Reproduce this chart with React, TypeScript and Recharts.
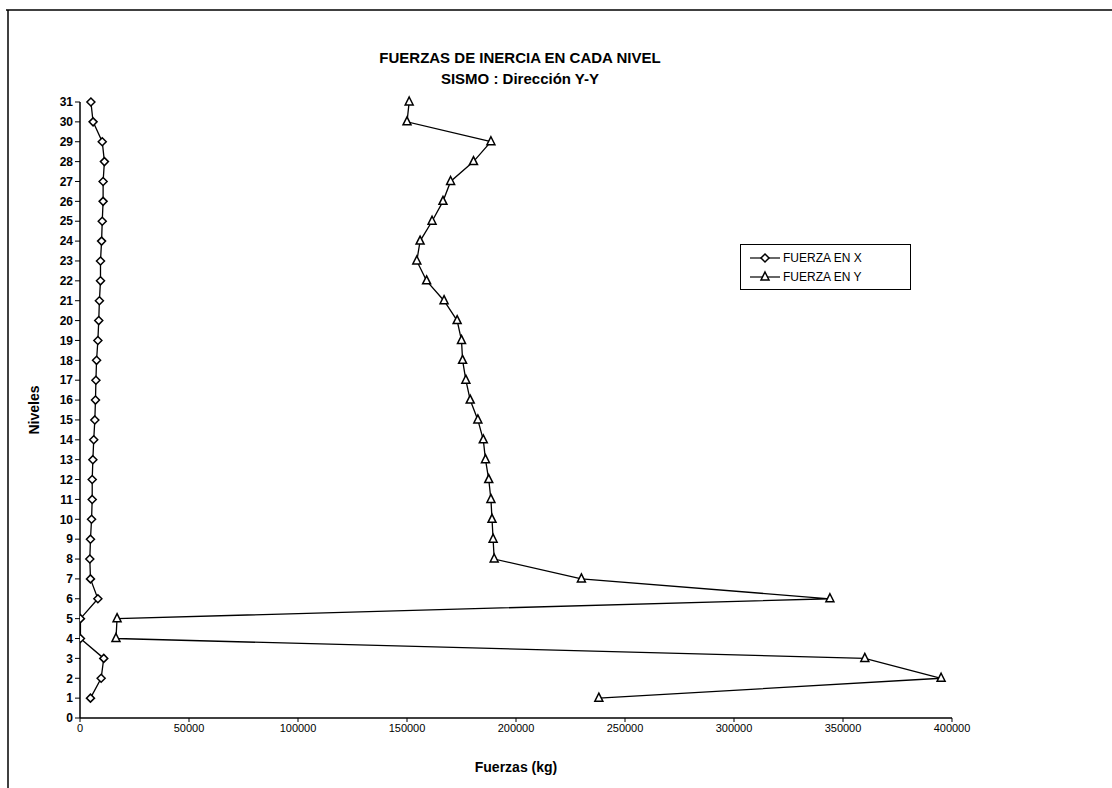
import React from "react";
import { ScatterChart, Scatter, XAxis, YAxis, Label, Legend } from "recharts";

// niveles (pisos) y fuerzas de inercia, en kg
const niveles = [1, 2, 3, 4, 5, 6, 7, 8, 9, 10, 11, 12, 13, 14, 15, 16, 17, 18, 19, 20, 21, 22, 23, 24, 25, 26, 27, 28, 29, 30, 31];
const fuerzaX = [4800, 9700, 10900, 200, 200, 8200, 4800, 4500, 4800, 5300, 5600, 5600, 5900, 6300, 6800, 7100, 7300, 7600, 8200, 8600, 8900, 9400, 9400, 9900, 10200, 10600, 10600, 11200, 10200, 6000, 5000];
const fuerzaY = [238000, 395000, 360000, 16500, 17000, 344000, 230000, 190000, 189500, 189000, 188500, 187500, 186000, 185000, 182500, 179000, 177000, 175500, 175000, 173000, 167000, 159000, 154500, 156000, 161500, 166500, 170000, 180500, 188500, 150000, 151000];

const yTicks = [0, 1, 2, 3, 4, 5, 6, 7, 8, 9, 10, 11, 12, 13, 14, 15, 16, 17, 18, 19, 20, 21, 22, 23, 24, 25, 26, 27, 28, 29, 30, 31];
const xTicks = [0, 50000, 100000, 150000, 200000, 250000, 300000, 350000, 400000];

const FONT = "'Liberation Sans', Arial, sans-serif";

const dataX = niveles.map((n, i) => ({ fuerza: fuerzaX[i], nivel: n }));
const dataY = niveles.map((n, i) => ({ fuerza: fuerzaY[i], nivel: n }));

const Diamond = (props: any) => {
  const { cx, cy } = props;
  if (cx == null || cy == null) return null;
  const r = 4;
  return (
    <path
      d={`M${cx},${cy - r}L${cx + r},${cy}L${cx},${cy + r}L${cx - r},${cy}Z`}
      fill="#fff"
      stroke="#000"
      strokeWidth={1.5}
    />
  );
};

const Triangle = (props: any) => {
  const { cx, cy } = props;
  if (cx == null || cy == null) return null;
  const r = 4;
  return (
    <path
      d={`M${cx},${cy - r - 1}L${cx + r},${cy + r - 1}L${cx - r},${cy + r - 1}Z`}
      fill="#fff"
      stroke="#000"
      strokeWidth={1.5}
    />
  );
};

const series = [
  { name: "FUERZA EN X", shape: Diamond },
  { name: "FUERZA EN Y", shape: Triangle },
];

const LegendBox = () => (
  <div
    style={{
      border: "1px solid #000",
      background: "#fff",
      padding: "3px 0",
      fontFamily: FONT,
      fontSize: 12,
      width: 169,
      color: "#000",
    }}
  >
    {series.map((s) => {
      const Shape = s.shape;
      return (
        <div key={s.name} style={{ display: "flex", alignItems: "center", height: 19, paddingLeft: 9 }}>
          <svg width={30} height={14}>
            <line x1={0} y1={7} x2={30} y2={7} stroke="#000" strokeWidth={1.2} />
            <Shape cx={15} cy={7} />
          </svg>
          <span style={{ marginLeft: 3 }}>{s.name}</span>
        </div>
      );
    })}
  </div>
);

export default function App() {
  return (
    <div style={{ position: "absolute", left: 0, top: 0, width: 1112, height: 788, background: "#fff" }}>
      <ScatterChart
        width={1112}
        height={788}
        margin={{ top: 102, right: 160, left: 48, bottom: 40 }}
      >
        <XAxis
          type="number"
          dataKey="fuerza"
          domain={[0, 400000]}
          ticks={xTicks}
          interval={0}
          allowDataOverflow
          axisLine={{ stroke: "#000", strokeWidth: 1.5 }}
          tickLine={{ stroke: "#000" }}
          tickSize={4}
          height={30}
          tick={{ fontSize: 11, fill: "#000", stroke: "none", fontFamily: FONT }}
        >
          <Label
            value="Fuerzas (kg)"
            position="insideBottom"
            offset={-24}
            style={{ fontSize: 14, fontWeight: "bold", fill: "#000", fontFamily: FONT }}
          />
        </XAxis>
        <YAxis
          type="number"
          dataKey="nivel"
          domain={[0, 31]}
          ticks={yTicks}
          interval={0}
          width={32}
          axisLine={{ stroke: "#000", strokeWidth: 1.5 }}
          tickLine={{ stroke: "#000" }}
          tickSize={5}
          tick={{ fontSize: 12, fontWeight: "bold", fill: "#000", stroke: "none", fontFamily: FONT }}
        >
          <Label
            value="Niveles"
            angle={-90}
            position="insideLeft"
            offset={-14}
            style={{ fontSize: 14, fontWeight: "bold", fill: "#000", fontFamily: FONT, textAnchor: "middle" }}
          />
        </YAxis>
        <Legend
          layout="horizontal"
          align="center"
          verticalAlign="middle"
          wrapperStyle={{ left: 740, top: 244, width: 171 }}
          content={() => <LegendBox />}
        />
        <Scatter
          name="FUERZA EN X"
          data={dataX}
          line={{ stroke: "#000", strokeWidth: 1.3 }}
          shape={Diamond}
          isAnimationActive={false}
        />
        <Scatter
          name="FUERZA EN Y"
          data={dataY}
          line={{ stroke: "#000", strokeWidth: 1.3 }}
          shape={Triangle}
          isAnimationActive={false}
        />
      </ScatterChart>
      <svg
        width={1112}
        height={788}
        style={{ position: "absolute", left: 0, top: 0, pointerEvents: "none" }}
      >
        <line x1={6} y1={10} x2={1112} y2={10} stroke="#000" strokeWidth={1.5} />
        <line x1={8} y1={10} x2={8} y2={788} stroke="#000" strokeWidth={1.5} />
        <text x={520} y={63} textAnchor="middle" fontFamily={FONT} fontSize={15} fontWeight="bold" fill="#000">
          FUERZAS DE INERCIA EN CADA NIVEL
        </text>
        <text x={520} y={84} textAnchor="middle" fontFamily={FONT} fontSize={15} fontWeight="bold" fill="#000">
          SISMO : Dirección Y-Y
        </text>
      </svg>
    </div>
  );
}
